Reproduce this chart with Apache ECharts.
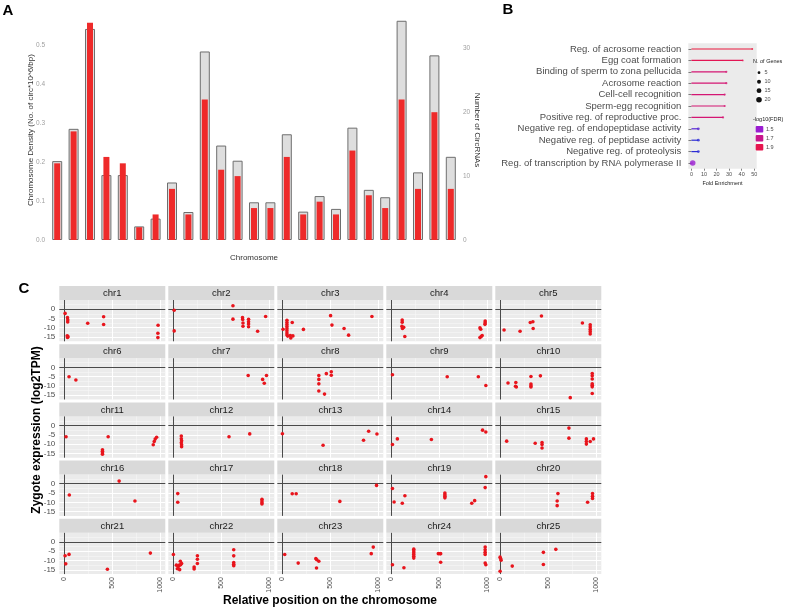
<!DOCTYPE html>
<html>
<head>
<meta charset="utf-8">
<title>circRNA chromosome figure</title>
<script src="https://cdn.jsdelivr.net/npm/echarts@6.0.0/dist/echarts.min.js"></script>
<style>
  html, body { margin: 0; padding: 0; background: #fff; }
  #chart { width: 800px; height: 610px; }
</style>
</head>
<body>
<div id="chart"></div>
<script>
// ---------- panel A : circRNAs per chromosome ----------
const chromosomes = ['chr1','chr2','chr3','chr4','chr5','chr6','chr7','chr8','chr9','chr10','chr11','chr12','chr13',
  'chr14','chr15','chr16','chr17','chr18','chr19','chr20','chr21','chr22','chr23','chr24','chr25'];
const circDensity = [0.203,0.286,0.543,0.167,0.167,0.035,0.055,0.148,0.072,0.485,0.243,0.204,0.097,
  0.097,0.272,0.073,0.113,0.080,0.289,0.129,0.110,0.564,0.174,0.475,0.214];
const circCount = [12,17,34,13,12,2,4,8,4,22,11,10,5,5,13,4,6,4,14,7,5,22,8,20,8];

// ---------- panel B : GO enrichment ----------
const goTerms = ['Reg. of acrosome reaction','Egg coat formation','Binding of sperm to zona pellucida',
  'Acrosome reaction','Cell-cell recognition','Sperm-egg recognition','Positive reg. of reproductive proc.',
  'Negative reg. of endopeptidase activity','Negative reg. of peptidase activity',
  'Negative reg. of proteolysis','Reg. of transcription by RNA polymerase II'];
const foldEnrichment = [48.5,40.9,27.8,27.8,26.5,26.5,25.2,5.5,5.5,5.5,1.0];
const geneCounts = [2,2,3,3,3,3,3,5,5,5,20];
const fdrScore = [1.95,1.88,1.78,1.78,1.78,1.78,1.78,1.38,1.3,1.3,1.5];
const foldTicks = [0,10,20,30,40,50];
const geneLegend = [5,10,15,20];
const fdrLegend = [1.5,1.7,1.9];

// ---------- panel C : expression vs position ----------
const chr1Pts = [[10,-2.3],[35,-4.6],[38,-5.8],[37,-6.9],[32,-14.3],[40,-14.8],[35,-15.2],[245,-7.6],[410,-4.1],[410,-8.3],[975,-8.7],[973,-13.0],[973,-15.3]];
const chr2Pts = [[11,-0.6],[11,-11.7],[621,1.8],[621,-5.4],[720,-4.6],[722,-5.6],[725,-7.5],[725,-9.2],[783,-5.5],[783,-6.8],[783,-8.0],[783,-9.5],[877,-11.9],[960,-4.0]];
const chr3Pts = [[10,-10.8],[50,-6.0],[50,-7.2],[50,-8.3],[50,-9.4],[50,-10.5],[50,-11.6],[50,-12.8],[50,-13.9],[58,-14.5],[85,-14.2],[90,-15.5],[112,-14.4],[105,-7.2],[221,-10.9],[503,-3.5],[517,-8.6],[643,-10.4],[690,-14.0],[932,-4.0]];
const chr4Pts = [[115,-5.9],[115,-7.0],[112,-9.3],[118,-10.4],[130,-9.8],[142,-14.7],[922,-10.1],[930,-10.8],[922,-15.3],[935,-14.7],[945,-14.2],[976,-6.4],[976,-7.3],[974,-8.2]];
const chr5Pts = [[41,-11.2],[207,-11.9],[313,-7.2],[340,-6.8],[343,-10.4],[429,-3.7],[854,-7.5],[935,-8.4],[935,-9.6],[935,-10.9],[935,-12.1],[935,-13.4]];
const chr6Pts = [[51,-5.1],[122,-6.8]];
const chr7Pts = [[779,-4.4],[929,-6.5],[946,-8.6],[969,-4.4]];
const chr8Pts = [[381,-4.4],[381,-6.5],[381,-8.9],[381,-12.7],[440,-14.4],[459,-3.4],[510,-2.4],[510,-4.3]];
const chr9Pts = [[14,-4.0],[582,-5.1],[905,-5.1],[983,-9.8]];
const chr10Pts = [[82,-8.4],[163,-8.2],[160,-10.2],[168,-10.6],[320,-4.9],[320,-9.0],[320,-9.9],[320,-10.6],[418,-4.6],[728,-16.3],[956,-3.3],[956,-4.6],[956,-6.3],[956,-8.8],[956,-9.6],[956,-10.5],[956,-14.1]];
const chr11Pts = [[20,-6.0],[457,-6.0],[398,-13.0],[398,-13.9],[398,-14.8],[398,-15.4],[925,-10.3],[935,-8.6],[945,-7.3],[960,-6.3]];
const chr12Pts = [[85,-5.7],[85,-7.1],[88,-8.2],[85,-9.3],[88,-10.4],[88,-11.4],[580,-6.0],[795,-4.5]];
const chr13Pts = [[3,-4.4],[425,-10.6],[845,-7.9],[898,-3.1],[984,-4.6]];
const chr14Pts = [[14,-10.2],[65,-7.2],[418,-7.5],[949,-2.5],[983,-3.5]];
const chr15Pts = [[68,-8.4],[364,-9.5],[435,-9.1],[435,-10.2],[435,-12.1],[714,-1.4],[714,-6.8],[895,-7.2],[895,-8.6],[895,-10.0],[935,-8.6],[969,-7.2]];
const chr16Pts = [[54,-6.1],[571,1.4],[735,-9.3]];
const chr17Pts = [[48,-5.3],[48,-10.0],[922,-8.4],[922,-9.3],[922,-10.2],[922,-10.9]];
const chr18Pts = [[105,-5.4],[146,-5.4],[599,-9.5],[980,-0.9]];
const chr19Pts = [[14,-2.6],[31,-9.8],[116,-10.5],[143,-6.5],[558,-5.0],[558,-5.9],[558,-6.8],[558,-7.6],[837,-10.5],[867,-9.1],[976,-2.1],[983,3.8]];
const chr20Pts = [[600,-5.3],[592,-9.3],[592,-11.8],[908,-10.0],[959,-5.3],[959,-6.8],[959,-7.9]];
const chr21Pts = [[10,-7.4],[17,-11.8],[51,-6.7],[449,-14.7],[895,-6.0]];
const chr22Pts = [[3,-6.8],[34,-12.5],[44,-14.4],[54,-13.2],[65,-12.5],[68,-14.9],[75,-10.4],[78,-12.3],[88,-11.6],[218,-13.5],[218,-14.5],[252,-7.4],[252,-9.3],[252,-11.6],[629,-4.2],[629,-7.5],[629,-11.1],[629,-12.0],[629,-12.8]];
const chr23Pts = [[27,-6.8],[167,-11.4],[350,-9.0],[360,-9.6],[381,-10.4],[357,-14.0],[925,-6.3],[946,-2.8]];
const chr24Pts = [[14,-12.3],[133,-13.9],[235,-3.9],[235,-4.9],[235,-5.8],[235,-6.8],[235,-7.7],[235,-8.7],[490,-6.3],[507,-6.4],[514,-6.3],[514,-10.9],[976,-2.8],[976,-4.2],[976,-5.6],[976,-6.7],[976,-11.4],[983,-12.3]];
const chr25Pts = [[0,-8.2],[10,-9.8],[5,-8.9],[0,-15.8],[126,-13.0],[449,-5.6],[449,-12.1],[578,-4.0]];
const exprTicks = [-15,-10,-5,0];
const exprMinor = [-12.5,-7.5,-2.5,2.5];
const posTicks = [0,500,1000];
const posMinor = [250,750];

const facetPts = [chr1Pts,chr2Pts,chr3Pts,chr4Pts,chr5Pts,chr6Pts,chr7Pts,chr8Pts,chr9Pts,chr10Pts,
  chr11Pts,chr12Pts,chr13Pts,chr14Pts,chr15Pts,chr16Pts,chr17Pts,chr18Pts,chr19Pts,chr20Pts,
  chr21Pts,chr22Pts,chr23Pts,chr24Pts,chr25Pts];

const FONT = '"Liberation Sans", Arial, sans-serif';
const TXT = '#4D4D4D';

// gradient used by ggplot for -log10(FDR), blue -> red
const fdrStops = [[1.3,[43,43,214]],[1.5,[154,29,209]],[1.7,[200,22,140]],[1.9,[230,21,78]],[2.0,[238,28,46]]];
function fdrColor(v) {
    if (v <= fdrStops[0][0]) return 'rgb(' + fdrStops[0][1].join(',') + ')';
    for (let i = 1; i < fdrStops.length; i++) {
        if (v <= fdrStops[i][0]) {
            const a = fdrStops[i - 1], b = fdrStops[i];
            const t = (v - a[0]) / (b[0] - a[0]);
            const c = a[1].map((x, k) => Math.round(x + (b[1][k] - x) * t));
            return 'rgb(' + c.join(',') + ')';
        }
    }
    return 'rgb(' + fdrStops[fdrStops.length - 1][1].join(',') + ')';
}
function geneSize(n) {
    return 1.25 * Math.sqrt(n);
}

const grids = [];
const xAxes = [];
const yAxes = [];
const series = [];
const graphics = [];

/* ---------- panel A ---------- */
grids.push({ left: 49, top: 20, width: 410, height: 220 });
xAxes.push({
    type: 'category', gridIndex: 0, data: chromosomes,
    axisLine: { show: false }, axisTick: { show: false }, axisLabel: { show: false },
    name: 'Chromosome', nameLocation: 'middle', nameGap: 14,
    nameTextStyle: { color: '#333', fontSize: 8, fontFamily: FONT }
});
xAxes.push({ type: 'category', gridIndex: 0, data: chromosomes, show: false });
yAxes.push({
    type: 'value', gridIndex: 0, position: 'left', min: 0, max: 0.566, interval: 0.1,
    axisLine: { show: false }, axisTick: { show: false }, splitLine: { show: false },
    axisLabel: { showMaxLabel: false, color: '#A0A0A0', fontSize: 6.5, margin: 4, fontFamily: FONT,
        formatter: v => v.toFixed(1) },
    name: 'Chromosome Density (No. of circ*10^6/bp)', nameLocation: 'middle', nameGap: 14.5, nameRotate: 90,
    nameMoveOverlap: false,
    nameTextStyle: { color: '#333', fontSize: 8, fontFamily: FONT }
});
yAxes.push({
    type: 'value', gridIndex: 0, position: 'right', min: 0, max: 34.43, interval: 10,
    axisLine: { show: false }, axisTick: { show: false }, splitLine: { show: false },
    axisLabel: { showMaxLabel: false, color: '#A0A0A0', fontSize: 6.5, margin: 4, fontFamily: FONT },
    name: 'Number of CircRNAs', nameLocation: 'middle', nameGap: 14, nameRotate: -90,
    nameMoveOverlap: false,
    nameTextStyle: { color: '#333', fontSize: 8, fontFamily: FONT }
});
series.push({
    type: 'bar', xAxisIndex: 0, yAxisIndex: 0, data: circDensity, barWidth: 10,
    itemStyle: { color: '#DEDEDE', borderColor: '#6E6E6E', borderWidth: 1 }
});
series.push({
    type: 'bar', xAxisIndex: 1, yAxisIndex: 1, data: circCount, barWidth: 6,
    itemStyle: { color: '#EE2A2A' }
});

/* ---------- panel B ---------- */
const bX = xAxes.length, bY = yAxes.length;
grids.push({ left: 688.3, top: 43.3, width: 68.4, height: 125.4, show: true, backgroundColor: '#EBEBEB', borderWidth: 0 });
xAxes.push({
    type: 'value', gridIndex: 1, min: -2.5, max: 52,
    axisLine: { show: false }, splitLine: { show: false },
    axisTick: { show: true, customValues: foldTicks, length: 2, lineStyle: { color: '#333', width: 0.6 } },
    axisLabel: { customValues: foldTicks, fontSize: 5.5, color: TXT, margin: 3, fontFamily: FONT },
    name: 'Fold Enrichment', nameLocation: 'middle', nameGap: 12,
    nameTextStyle: { fontSize: 5.5, color: '#222', fontFamily: FONT }
});
yAxes.push({
    type: 'category', gridIndex: 1, data: goTerms, inverse: true,
    axisLine: { show: false },
    axisTick: { show: true, alignWithLabel: true, interval: 0, length: 3, lineStyle: { color: '#333', width: 0.6 } },
    axisLabel: { interval: 0, fontSize: 9.5, color: TXT, margin: 7, fontFamily: FONT }
});
series.push({
    type: 'bar', xAxisIndex: bX, yAxisIndex: bY, barWidth: 1.2,
    data: foldEnrichment.map((v, i) => ({ value: v, itemStyle: { color: fdrColor(fdrScore[i]) } }))
});
series.push({
    type: 'scatter', xAxisIndex: bX, yAxisIndex: bY, z: 3,
    data: foldEnrichment.map((v, i) => ({
        value: [v, i], symbolSize: geneSize(geneCounts[i]),
        itemStyle: { color: fdrColor(fdrScore[i]) }
    }))
});

// legends of panel B
const legX = 753;
graphics.push({ type: 'text', x: legX, y: 61.7, style: { text: 'N. of Genes', font: '5.5px ' + FONT, fill: '#222', verticalAlign: 'middle' } });
geneLegend.forEach((g, k) => {
    const cy = 72.7 + k * 9;
    graphics.push({ type: 'circle', shape: { cx: legX + 6, cy: cy, r: geneSize(g) / 2 }, style: { fill: '#111' } });
    graphics.push({ type: 'text', x: legX + 11.5, y: cy, style: { text: String(g), font: '5.5px ' + FONT, fill: TXT, verticalAlign: 'middle' } });
});
graphics.push({ type: 'text', x: legX, y: 119, style: { text: '-log10(FDR)', font: '5.5px ' + FONT, fill: '#222', verticalAlign: 'middle' } });
fdrLegend.forEach((f, k) => {
    const cy = 129.3 + k * 9;
    graphics.push({ type: 'rect', shape: { x: legX + 2.7, y: cy - 3.3, width: 7.6, height: 6.6, r: 1 }, style: { fill: fdrColor(f) } });
    graphics.push({ type: 'text', x: legX + 13, y: cy, style: { text: f.toFixed(1), font: '5.5px ' + FONT, fill: TXT, verticalAlign: 'middle' } });
});

/* ---------- panel C ---------- */
const facet = { left: 59.3, colStep: 109, width: 106, top: 286, rowStep: 58.2, strip: 14, height: 41.3 };
const MAJOR = { color: '#FFFFFF', width: 1.1, type: 'solid' };
const MINOR = { color: '#F7F7F7', width: 0.6, type: 'solid' };
const ZERO = { color: '#4A4A4A', width: 1, type: 'solid' };

facetPts.forEach((pts, i) => {
    const r = Math.floor(i / 5), c = i % 5;
    const gi = grids.length;
    const left = facet.left + c * facet.colStep;
    const stripTop = facet.top + r * facet.rowStep;
    grids.push({
        left: left, top: stripTop + facet.strip, width: facet.width, height: facet.height,
        show: true, backgroundColor: '#EBEBEB', borderWidth: 0
    });
    const xi = xAxes.length, yi = yAxes.length;
    xAxes.push({
        type: 'value', gridIndex: gi, position: 'bottom', min: -50, max: 1050,
        axisLine: { show: false }, splitLine: { show: false },
        axisTick: { show: r === 4, customValues: posTicks, length: 2.5, lineStyle: { color: '#333', width: 0.7 } },
        axisLabel: { show: r === 4, customValues: posTicks, rotate: 90, fontSize: 7, color: TXT, margin: 3,
            fontFamily: FONT, formatter: v => String(v) }
    });
    yAxes.push({
        type: 'value', gridIndex: gi, position: 'left', min: -17.3, max: 4.9,
        axisLine: { show: false }, splitLine: { show: false },
        axisTick: { show: c === 0, customValues: exprTicks, length: 2.5, lineStyle: { color: '#333', width: 0.7 } },
        axisLabel: { show: c === 0, customValues: exprTicks, fontSize: 8, color: TXT, margin: 4, fontFamily: FONT }
    });
    // panel grid lines (ggplot grey theme), drawn under the points
    const gridLines = []
        .concat(posMinor.map(v => ({ xAxis: v, lineStyle: MINOR })))
        .concat(exprMinor.map(v => ({ yAxis: v, lineStyle: MINOR })))
        .concat(posTicks.map(v => ({ xAxis: v, lineStyle: MAJOR })))
        .concat(exprTicks.map(v => ({ yAxis: v, lineStyle: MAJOR })));
    series.push({
        type: 'scatter', xAxisIndex: xi, yAxisIndex: yi, data: [], z: 1, silent: true,
        markLine: { z: 1, silent: true, symbol: 'none', label: { show: false }, animation: false, data: gridLines }
    });
    series.push({
        type: 'scatter', xAxisIndex: xi, yAxisIndex: yi, data: [], z: 2, silent: true,
        markLine: { z: 2, silent: true, symbol: 'none', label: { show: false }, animation: false,
            data: [{ xAxis: 0, lineStyle: ZERO }, { yAxis: 0, lineStyle: ZERO }] }
    });
    series.push({
        type: 'scatter', xAxisIndex: xi, yAxisIndex: yi, data: pts, symbolSize: 3.6, z: 6,
        itemStyle: { color: '#E8141C', opacity: 1 }
    });
    // facet strip
    graphics.push({ type: 'rect', shape: { x: left, y: stripTop, width: facet.width, height: facet.strip }, style: { fill: '#D9D9D9' } });
    graphics.push({
        type: 'text', x: left + facet.width / 2, y: stripTop + facet.strip / 2 + 0.5,
        style: { text: chromosomes[i], font: '9.5px ' + FONT, fill: '#1A1A1A', align: 'center', verticalAlign: 'middle' }
    });
});

// titles of panel C
graphics.push({
    type: 'text', x: 36.5, y: 430, rotation: Math.PI / 2,
    style: { text: 'Zygote expression (log2TPM)', font: 'bold 12px ' + FONT, fill: '#000', align: 'center', verticalAlign: 'middle' }
});
graphics.push({
    type: 'text', x: 330, y: 601,
    style: { text: 'Relative position on the chromosome', font: 'bold 12px ' + FONT, fill: '#000', align: 'center', verticalAlign: 'middle' }
});

// panel letters
[['A', 8, 11], ['B', 508, 10], ['C', 24, 289]].forEach(p => {
    graphics.push({
        type: 'text', x: p[1], y: p[2],
        style: { text: p[0], font: 'bold 15px ' + FONT, fill: '#000', align: 'center', verticalAlign: 'middle' }
    });
});

const chart = echarts.init(document.getElementById('chart'), null, { renderer: 'canvas' });
chart.setOption({
    animation: false,
    backgroundColor: '#FFFFFF',
    textStyle: { fontFamily: FONT },
    grid: grids,
    xAxis: xAxes,
    yAxis: yAxes,
    series: series,
    graphic: graphics
});

window.addEventListener('resize', function () {
    chart.resize();
});
</script>
</body>
</html>
